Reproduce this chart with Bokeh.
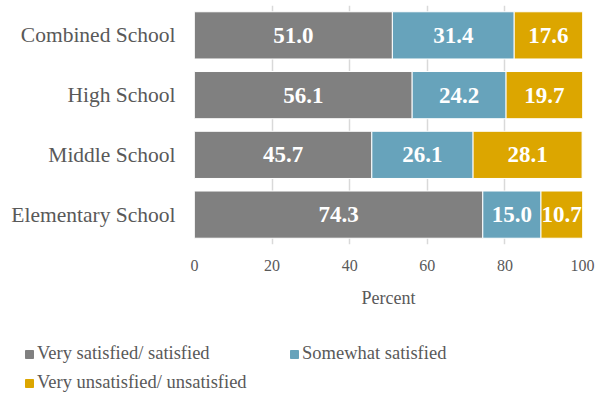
from bokeh.plotting import figure
from bokeh.layouts import column, row
from bokeh.models import ColumnDataSource, FactorRange, Legend, LegendItem, LabelSet, FixedTicker
from bokeh.embed import file_html
from bokeh.resources import INLINE

schools = ["Combined School", "High School", "Middle School", "Elementary School"]
very_satisfied = [51.0, 56.1, 45.7, 74.3]
somewhat_satisfied = [31.4, 24.2, 26.1, 15.0]
unsatisfied = [17.6, 19.7, 28.1, 10.7]
series_names = ["Very satisfied/ satisfied", "Somewhat satisfied", "Very unsatisfied/ unsatisfied"]
series_keys = ["vs", "ss", "vu"]
colors = ["#808080", "#67A3BB", "#DCA600"]
x_ticks = [0, 20, 40, 60, 80, 100]
x_label = "Percent"

FONT = "Liberation Serif"
TEXT_COLOR = "#595959"

src = ColumnDataSource(dict(school=schools, vs=very_satisfied, ss=somewhat_satisfied, vu=unsatisfied))

p = figure(width=605, height=320,
           y_range=FactorRange(factors=schools[::-1]), x_range=(0, 100),
           output_backend="svg", toolbar_location=None,
           min_border_left=194, min_border_right=23, min_border_top=5, min_border_bottom=76)

renderers = p.hbar_stack(series_keys, y="school", height=0.79, color=colors,
                         line_color="white", line_width=1, source=src)

# value labels, centred in each segment
lx, ly, lt = [], [], []
for i, s in enumerate(schools):
    left = 0.0
    for vals in (very_satisfied, somewhat_satisfied, unsatisfied):
        v = vals[i]
        lx.append(left + v / 2)
        ly.append(s)
        lt.append(f"{v:.1f}")
        left += v
lsrc = ColumnDataSource(dict(x=lx, y=ly, t=lt))
p.add_layout(LabelSet(x="x", y="y", text="t", source=lsrc, text_align="center",
                      text_baseline="middle", text_color="white", text_font=FONT,
                      text_font_size="23px", text_font_style="bold"))

p.outline_line_color = None
p.background_fill_color = "white"
p.ygrid.grid_line_color = None
p.xgrid.grid_line_color = "#D9D9D9"
p.xgrid.grid_line_width = 1.5
p.xgrid.ticker = FixedTicker(ticks=x_ticks)

p.xaxis.ticker = FixedTicker(ticks=x_ticks)
p.xaxis.axis_label = x_label
for ax in (p.xaxis[0], p.yaxis[0]):
    ax.axis_line_color = None
    ax.major_tick_line_color = None
    ax.minor_tick_line_color = None
    ax.major_tick_out = 0
    ax.major_tick_in = 0
    ax.major_label_text_font = FONT
    ax.major_label_text_color = TEXT_COLOR
p.xaxis.major_label_text_font_size = "16px"
p.xaxis.major_label_standoff = 15
p.xaxis.axis_label_text_font = FONT
p.xaxis.axis_label_text_font_style = "normal"
p.xaxis.axis_label_text_font_size = "18px"
p.xaxis.axis_label_text_color = TEXT_COLOR
p.xaxis.axis_label_standoff = 14
p.yaxis.major_label_text_font_size = "21.5px"
p.yaxis.major_label_standoff = 19

# legend figure below the chart (its renderers are hidden; only the legend shows)
lf = figure(width=605, height=74, x_range=(0, 100),
            y_range=FactorRange(factors=schools[::-1]),
            output_backend="svg", toolbar_location=None,
            x_axis_location=None, y_axis_location=None,
            min_border=0, min_border_left=0, min_border_right=0,
            min_border_top=0, min_border_bottom=0)
lf.outline_line_color = None
lf.xgrid.visible = False
lf.ygrid.visible = False
hidden = lf.hbar_stack(series_keys, y="school", height=0.79, color=colors, source=src)
for r in hidden:
    r.visible = False
items = [LegendItem(label=n, renderers=[r]) for n, r in zip(series_names, hidden)]
legend = Legend(items=items, location=(24, 1), orientation="horizontal", ncols=2,
                glyph_width=10, glyph_height=10, label_height=18, label_width=244,
                label_standoff=3, spacing=8, padding=0, margin=0,
                label_text_font=FONT, label_text_font_size="18.5px", label_text_color=TEXT_COLOR,
                border_line_color=None, background_fill_alpha=0,
                inactive_fill_alpha=0)
lf.add_layout(legend, "center")

layout = column(p, row(lf), spacing=0)
open("out.html", "w").write(file_html(layout, INLINE))
